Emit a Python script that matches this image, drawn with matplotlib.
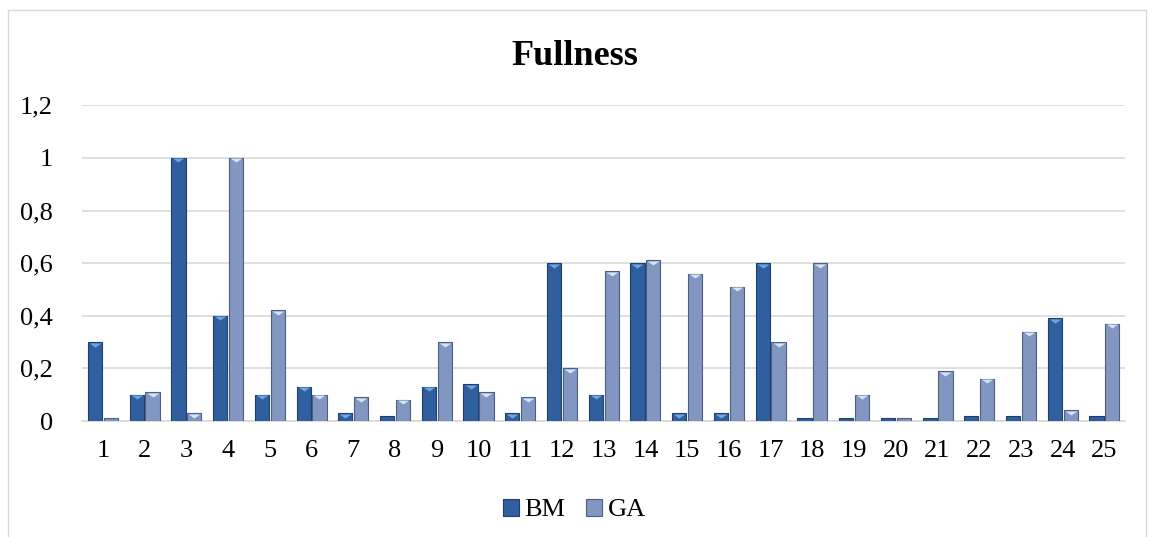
import matplotlib
matplotlib.use("Agg")
import matplotlib.pyplot as plt
from matplotlib.patches import Rectangle
from matplotlib.transforms import offset_copy
import numpy as np

categories = [str(i) for i in range(1, 26)]
bm = [0.30, 0.10, 1.00, 0.40, 0.10, 0.13, 0.03, 0.02, 0.13, 0.14, 0.03, 0.60, 0.10,
      0.60, 0.03, 0.03, 0.60, 0.01, 0.01, 0.01, 0.01, 0.02, 0.02, 0.39, 0.02]
ga = [0.01, 0.11, 0.03, 1.00, 0.42, 0.10, 0.09, 0.08, 0.30, 0.11, 0.09, 0.20, 0.57,
      0.61, 0.56, 0.51, 0.30, 0.60, 0.10, 0.01, 0.19, 0.16, 0.34, 0.04, 0.37]
y_ticks = [0, 0.2, 0.4, 0.6, 0.8, 1.0, 1.2]
y_labels = ["0", "0,2", "0,4", "0,6", "0,8", "1", "1,2"]

plt.rcParams['font.family'] = ['Liberation Serif', 'DejaVu Serif']

fig = plt.figure(figsize=(11.49, 5.37), dpi=100)
ax = fig.add_axes([0.0714, 0.216, 0.908, 0.588])

x = np.arange(len(categories))
w = 0.34
off = 0.19
bm_color = "#2F5F9E"
ga_color = "#8196C0"

ax.bar(x - off, bm, w, color=bm_color, edgecolor="#1F3F6E", linewidth=0.8,
       label="BM", zorder=3)
ax.bar(x + off, ga, w, color=ga_color, edgecolor="#4E5F82", linewidth=0.8,
       label="GA", zorder=3)

# flat bevel highlight just inside the top of each bar
bevel = [(-1, 0.35), (1, 0.35), (0, -0.35)]
tr = offset_copy(ax.transData, fig=fig, y=-1.8, units="points")
bm_top = [v if v >= 0.025 else np.nan for v in bm]
ga_top = [v if v >= 0.025 else np.nan for v in ga]
ax.scatter(x - off, bm_top, marker=bevel, s=70, color="#6FA6E0", zorder=4,
           linewidths=0, transform=tr)
ax.scatter(x + off, ga_top, marker=bevel, s=70, color="#D3E4F7", zorder=4,
           linewidths=0, transform=tr)

ax.set_xlim(-0.5, len(categories) - 0.5)
ax.set_ylim(0, 1.2)
ax.set_xticks(x)
ax.set_xticklabels(categories, fontsize=19)
ax.set_yticks(y_ticks)
ax.set_yticklabels(y_labels, fontsize=19)
ax.tick_params(axis="x", length=0, pad=14)
ax.tick_params(axis="y", length=0, pad=21)
ax.grid(axis="y", color="#D9D9D9", linewidth=1.2, zorder=0)
for s in ["top", "right", "left"]:
    ax.spines[s].set_visible(False)
ax.spines["bottom"].set_color("#D9D9D9")
ax.spines["bottom"].set_linewidth(1.2)

fig.text(0.5, 0.895, "Fullness", ha="center", va="center", fontsize=26, fontweight="bold")

h, l = ax.get_legend_handles_labels()
fig.legend(h, l, loc="center", bbox_to_anchor=(0.5, 0.05), ncol=2, frameon=False,
           fontsize=19, handlelength=0.6, handleheight=0.6, handletextpad=0.2,
           columnspacing=0.8)

fig.patches.append(Rectangle((8 / 1149, -0.05), 1138 / 1149, 1.05 - 10 / 537,
                             transform=fig.transFigure, fill=False,
                             edgecolor="#D9D9D9", linewidth=1))

fig.savefig("out.png", dpi=100)
plt.close(fig)
